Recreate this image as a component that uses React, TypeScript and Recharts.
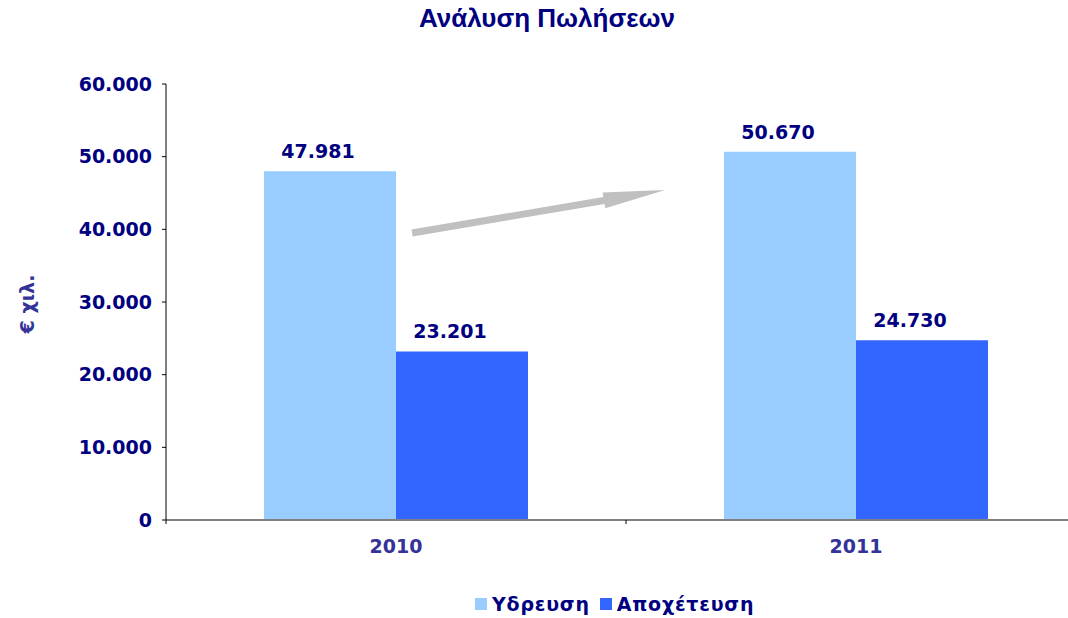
import React from 'react';
import { BarChart, Bar, XAxis, YAxis, Legend, LabelList, ReferenceLine } from 'recharts';

const years = ['2010', '2011'];
const ydreusi = [47981, 50670];
const apoxeteusi = [23201, 24730];
const yTicks = [0, 10000, 20000, 30000, 40000, 50000, 60000];
const seriesNames = ['Υδρευση', 'Αποχέτευση'];
// arrow annotation: y values in data units; x as fraction of the way from 2010 centre to 2011 centre
const arrowStart = { x: '2010', y: 39500, t: 0.035 };
const arrowEnd = { x: '2011', y: 45400, t: 0.585 };

const data = years.map((y, i) => ({ year: y, a: ydreusi[i], b: apoxeteusi[i] }));

const fmt = (v: number) => String(v).replace(/\B(?=(\d{3})+(?!\d))/g, '.');

const FONT = '"DejaVu Sans", Verdana, sans-serif';
const NAVY = '#000080';
const SLATE = '#333399';
const LIGHT = '#99CCFF';
const DARK = '#3366FF';

const BarLabel = (props: any) => {
  const { x, y, width, value } = props;
  return (
    <text
      x={Number(x) + Number(width) / 2 - 12}
      y={Number(y) - 13}
      textAnchor="middle"
      fill={NAVY}
      fontFamily={FONT}
      fontWeight="bold"
      fontSize={19}
    >
      {fmt(Number(value))}
    </text>
  );
};

const XTick = (props: any) => {
  const { x, y, payload } = props;
  const half = payload && payload.offset ? payload.offset : 230;
  return (
    <g>
      <line x1={x - half} y1={y - 8} x2={x - half} y2={y - 4} stroke="#000" strokeWidth={1} />
      <text
        x={x}
        y={y + 25}
        textAnchor="middle"
        fill={SLATE}
        fontFamily={FONT}
        fontWeight="bold"
        fontSize={19}
      >
        {payload.value}
      </text>
    </g>
  );
};

const Arrow = (props: any) => {
  const { x1: cx1, y1, x2: cx2, y2 } = props;
  if ([cx1, y1, cx2, y2].some((v) => v === undefined || isNaN(Number(v)))) return null;
  const x1 = cx1 + (cx2 - cx1) * arrowStart.t;
  const x2 = cx1 + (cx2 - cx1) * arrowEnd.t;
  const dx = x2 - x1;
  const dy = y2 - y1;
  const len = Math.sqrt(dx * dx + dy * dy);
  const ux = dx / len;
  const uy = dy / len;
  const px = -uy;
  const py = ux;
  const shaftW = 3.5;
  const headW = 8;
  const headL = 62;
  const bx = x2 - ux * headL;
  const by = y2 - uy * headL;
  const pts = [
    [x1 + px * shaftW, y1 + py * shaftW],
    [bx + px * shaftW, by + py * shaftW],
    [bx + px * headW, by + py * headW],
    [x2, y2],
    [bx - px * headW, by - py * headW],
    [bx - px * shaftW, by - py * shaftW],
    [x1 - px * shaftW, y1 - py * shaftW],
  ]
    .map((p) => `${p[0]},${p[1]}`)
    .join(' ');
  return <polygon points={pts} fill="#C0C0C0" stroke="none" />;
};

const LegendContent = (props: any) => {
  const payload = [...(props.payload || [])].sort(
    (a: any, b: any) => seriesNames.indexOf(a.value) - seriesNames.indexOf(b.value)
  );
  return (
    <div style={{ display: 'flex', alignItems: 'center', fontFamily: FONT, fontWeight: 'bold', fontSize: 19, color: NAVY, letterSpacing: '0.8px' }}>
      {payload.map((p: any, i: number) => (
        <div key={i} style={{ display: 'flex', alignItems: 'center', marginRight: 10 }}>
          <span style={{ display: 'inline-block', width: 12, height: 12, background: p.color, marginRight: 5 }} />
          <span style={{ lineHeight: '22px' }}>{p.value}</span>
        </div>
      ))}
    </div>
  );
};

const YLabel = (props: any) => {
  const vb = props.viewBox || { x: 0, y: 84, width: 166, height: 436 };
  const cx = vb.x + 27;
  const cy = vb.y + vb.height / 2 + 2;
  return (
    <text
      x={cx}
      y={cy}
      transform={`rotate(-90, ${cx}, ${cy})`}
      textAnchor="middle"
      dominantBaseline="central"
      fill={SLATE}
      fontFamily={FONT}
      fontWeight="bold"
      fontSize={19}
    >
      € χιλ.
    </text>
  );
};

export default function App() {
  return (
    <div style={{ position: 'fixed', left: 0, top: 0, width: 1068, height: 618, overflow: 'hidden', background: '#fff' }}>
      <div
        style={{
          position: 'absolute',
          left: 0,
          top: 5,
          width: 1094,
          textAlign: 'center',
          fontFamily: '"Liberation Sans", Arial, sans-serif',
          fontWeight: 'bold',
          fontSize: 26,
          lineHeight: '26px',
          color: NAVY,
        }}
      >
        Ανάλυση Πωλήσεων
      </div>
      <BarChart
        width={1100}
        height={618}
        data={data}
        margin={{ top: 84, right: 14, left: 0, bottom: 68 }}
        barCategoryGap={98}
        barGap={0}
      >
        <XAxis
          dataKey="year"
          height={30}
          axisLine={{ stroke: '#808080', strokeWidth: 2 }}
          tickLine={false}
          tick={<XTick />}
          interval={0}
        />
        <YAxis
          width={166}
          domain={[0, 60000]}
          ticks={yTicks}
          tickFormatter={fmt}
          tickSize={4}
          tickMargin={10}
          axisLine={{ stroke: '#000' }}
          tickLine={{ stroke: '#000' }}
          tick={{ fill: NAVY, fontFamily: FONT, fontWeight: 'bold', fontSize: 19 }}
          label={<YLabel />}
          interval={0}
        />
        <Legend
          layout="horizontal"
          verticalAlign="middle"
          align="center"
          wrapperStyle={{ top: 593, left: 475, width: 400 }}
          content={<LegendContent />}
        />
        <Bar dataKey="a" name={seriesNames[0]} fill={LIGHT} isAnimationActive={false}>
          <LabelList dataKey="a" content={<BarLabel />} />
        </Bar>
        <Bar dataKey="b" name={seriesNames[1]} fill={DARK} isAnimationActive={false}>
          <LabelList dataKey="b" content={<BarLabel />} />
        </Bar>
        <ReferenceLine
          segment={[
            { x: arrowStart.x, y: arrowStart.y },
            { x: arrowEnd.x, y: arrowEnd.y },
          ]}
          shape={<Arrow />}
          ifOverflow="visible"
        />
      </BarChart>
    </div>
  );
}
